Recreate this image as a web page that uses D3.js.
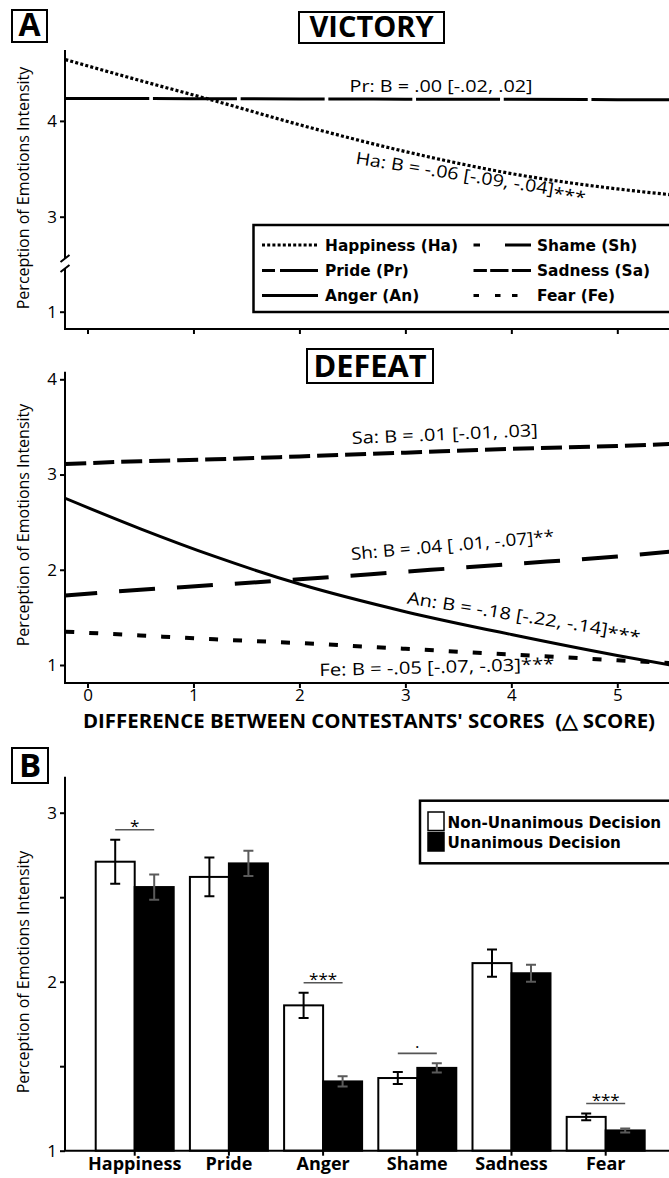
<!DOCTYPE html>
<html><head><meta charset="utf-8">
<script src="https://cdn.jsdelivr.net/npm/d3@7"></script>
<style>body{margin:0;background:#fff}svg{display:block}</style>
</head><body>
<svg id="c" width="669" height="1178"></svg>
<script>
// ---------- DATA ----------
const xGrid = [-0.21, 0.5, 1.2, 2, 3, 4, 5, 5.5];
const happiness = [4.64, 4.42, 4.21, 3.96, 3.68, 3.45, 3.29, 3.23];
const pride = [4.235, 4.233, 4.231, 4.229, 4.227, 4.225, 4.222, 4.22];
const sadness = [3.11, 3.14, 3.16, 3.19, 3.23, 3.27, 3.30, 3.32];
const shame = [1.73, 1.79, 1.84, 1.90, 1.98, 2.06, 2.14, 2.19];
const anger = [2.75, 2.43, 2.14, 1.85, 1.56, 1.32, 1.10, 1.00];
const fear = [1.35, 1.31, 1.27, 1.23, 1.17, 1.11, 1.05, 1.02];
const xTicks = [0, 1, 2, 3, 4, 5];
const victoryTicks = [1, 3, 4];
const defeatTicks = [1, 2, 3, 4];
const categories = ["Happiness", "Pride", "Anger", "Shame", "Sadness", "Fear"];
const nonUnanimous = [2.71, 2.62, 1.86, 1.43, 2.11, 1.20];
const nonUnanimousErr = [0.13, 0.115, 0.075, 0.035, 0.08, 0.02];
const unanimous = [2.56, 2.70, 1.41, 1.49, 2.05, 1.12];
const unanimousErr = [0.075, 0.075, 0.03, 0.027, 0.05, 0.012];
const sigLabels = ["*", "", "***", ".", "", "***"];
const barTicks = [1, 1.5, 2, 2.5, 3];

// ---------- SETUP ----------
const svg = d3.select("#c");
const SANS = "'Open Sans', sans-serif";
const LEG = "'DejaVu Sans', sans-serif";
const AX = 65, RIGHT = 669;

const x = d3.scaleLinear().domain([0, 5]).range([87.5, 617.3]);
const yV = d3.scaleLinear().domain([0.82, 1, 3, 4.74]).range([329, 311.7, 216.7, 50]);
const yD = d3.scaleLinear().domain([1, 4]).range([665, 379.3]);

function titleBox(cx, y0, y1, w, txt, fs, tl) {
  svg.append("rect").attr("x", cx - w / 2).attr("y", y0).attr("width", w).attr("height", y1 - y0)
    .attr("fill", "white").attr("stroke", "black").attr("stroke-width", 2);
  const t = svg.append("text").attr("x", cx).attr("y", y1 - 6).attr("text-anchor", "middle")
    .attr("font-family", SANS).attr("font-weight", 700).attr("font-size", fs).text(txt);
  if (tl) t.attr("textLength", tl).attr("lengthAdjust", "spacingAndGlyphs");
}
titleBox(29.5, 10, 42, 35, "A", 32, null);
titleBox(371.5, 12, 43, 145, "VICTORY", 28, 124);
titleBox(370, 349, 383, 126, "DEFEAT", 30, 113);
titleBox(30, 748, 783, 36, "B", 33, null);

function yTitle(cy) {
  svg.append("text").attr("transform", `translate(29,${cy}) rotate(-90)`)
    .attr("text-anchor", "middle").attr("font-family", SANS).attr("font-size", 16)
    .text("Perception of Emotions Intensity");
}
yTitle(188); yTitle(525); yTitle(972);

function clip(id, y0, y1) {
  svg.append("clipPath").attr("id", id).append("rect")
    .attr("x", AX).attr("y", y0).attr("width", RIGHT - AX).attr("height", y1 - y0);
}
clip("cv", 48, 329); clip("cd", 370, 683);

function drawLine(vals, yS, clipId, w, dash, off) {
  const line = d3.line().x(d => x(d[0])).y(d => yS(d[1])).curve(d3.curveMonotoneX);
  svg.append("path").attr("d", line(xGrid.map((g, i) => [g, vals[i]])))
    .attr("fill", "none").attr("stroke", "black").attr("stroke-width", w)
    .attr("stroke-dasharray", dash || null).attr("stroke-dashoffset", off || 0)
    .attr("clip-path", `url(#${clipId})`);
}

function label(txt, stars, starDy, cx, cy, rot, len) {
  const t = svg.append("text").attr("transform", `translate(${cx},${cy}) rotate(${rot})`)
    .attr("text-anchor", "middle").attr("font-family", SANS).attr("font-size", 17)
    .attr("textLength", len).attr("lengthAdjust", "spacingAndGlyphs");
  t.append("tspan").text(txt);
  if (stars) t.append("tspan").attr("dy", starDy).text(stars);
}

// ---------- VICTORY ----------
const gV = svg.append("g");
gV.append("path").attr("d", `M${AX},50V259M${AX},269V329H${RIGHT}`)
  .attr("fill", "none").attr("stroke", "black").attr("stroke-width", 2);
gV.append("path").attr("d", "M60.5,262L69.5,255M60.5,272L69.5,265")
  .attr("stroke", "black").attr("stroke-width", 2);
const axV = gV.append("g").attr("transform", `translate(${AX},0)`)
  .call(d3.axisLeft(yV).tickValues(victoryTicks).tickSize(5).tickFormat(d3.format("d")));
const axVx = gV.append("g").attr("transform", "translate(0,329)")
  .call(d3.axisBottom(x).tickValues(xTicks).tickSize(5).tickFormat(""));
[axV, axVx].forEach(a => {
  a.select(".domain").remove();
  a.selectAll("line").attr("stroke-width", 2);
  a.selectAll("text").attr("font-family", SANS).attr("font-size", 17).attr("fill", "black");
});

drawLine(happiness, yV, "cv", 3.2, "3,2.2");
drawLine(pride, yV, "cv", 3, "84,3.7");
label("Pr: B = .00 [-.02, .02]", "", 0, 441, 92, 0, 183);
label("Ha: B = -.06 [-.09, -.04]", "***", 4, 470, 182, 9, 233);

// legend
const lg = svg.append("g");
lg.append("rect").attr("x", 253.5).attr("y", 225).attr("width", 440).attr("height", 87)
  .attr("fill", "white").attr("stroke", "black").attr("stroke-width", 2.5);
const legItems = [
  {t: "Happiness (Ha)", col: 0, row: 0, dash: "3,2.2"},
  {t: "Pride (Pr)", col: 0, row: 1, dash: "13,5,80"},
  {t: "Anger (An)", col: 0, row: 2, dash: null},
  {t: "Shame (Sh)", col: 1, row: 0, dash: "6.5,25,40"},
  {t: "Sadness (Sa)", col: 1, row: 1, dash: "13.4,3.3,18.3,3.4,40"},
  {t: "Fear (Fe)", col: 1, row: 2, dash: "5.5,16,5.5,11.5,5.5,60"}
];
const rowsY = [245, 270.5, 295.5];
const colX = [[262, 318, 325], [473.5, 531, 537]];
legItems.forEach(it => {
  const c = colX[it.col], yy = rowsY[it.row];
  lg.append("line").attr("x1", c[0]).attr("x2", c[1]).attr("y1", yy).attr("y2", yy)
    .attr("stroke", "black").attr("stroke-width", 3.2).attr("stroke-dasharray", it.dash);
  lg.append("text").attr("x", c[2]).attr("y", yy + 5.5).attr("font-family", LEG)
    .attr("font-weight", 700).attr("font-size", 15.4).text(it.t);
});

// ---------- DEFEAT ----------
const gD = svg.append("g");
gD.append("path").attr("d", `M${AX},371.7V683H${RIGHT}`)
  .attr("fill", "none").attr("stroke", "black").attr("stroke-width", 2);
const axD = gD.append("g").attr("transform", `translate(${AX},0)`)
  .call(d3.axisLeft(yD).tickValues(defeatTicks).tickSize(5).tickFormat(d3.format("d")));
const axDx = gD.append("g").attr("transform", "translate(0,683)")
  .call(d3.axisBottom(x).tickValues(xTicks).tickSize(5).tickPadding(1).tickFormat(d3.format("d")));
[axD, axDx].forEach(a => {
  a.select(".domain").remove();
  a.selectAll("line").attr("stroke-width", 2);
  a.selectAll("text").attr("font-family", SANS).attr("font-size", 17).attr("fill", "black");
});

drawLine(sadness, yD, "cd", 4, "21,7");
drawLine(shame, yD, "cd", 4, "36,22", 4);
drawLine(anger, yD, "cd", 3);
drawLine(fear, yD, "cd", 4, "9,15");
label("Sa: B = .01 [-.01, .03]", "", 0, 445, 440, -2.5, 186);
label("Sh: B = .04 [ .01, -.07]", "**", 0, 453, 551, -5, 204);
label("An: B = -.18 [-.22, -.14]", "***", 3, 523, 622, 9, 236);
label("Fe: B = -.05 [-.07, -.03]", "***", 0, 437, 673, -1.5, 235);

svg.append("text").attr("x", 369).attr("y", 728).attr("text-anchor", "middle")
  .attr("font-family", SANS).attr("font-weight", 700).attr("font-size", 20)
  .attr("textLength", 572).attr("lengthAdjust", "spacingAndGlyphs")
  .text("DIFFERENCE BETWEEN CONTESTANTS' SCORES\u00A0\u00A0(\u25B3 SCORE)");

// ---------- PANEL B ----------
const xB = d3.scaleBand().domain(categories).range([65, 675.4]).paddingInner(0.172).paddingOuter(0.326);
const yB = d3.scaleLinear().domain([1, 3]).range([1150.7, 812.7]);
const bw = xB.bandwidth() / 2;
const gB = svg.append("g");

categories.forEach((c, i) => {
  const x0 = xB(c);
  gB.append("rect").attr("x", x0).attr("y", yB(nonUnanimous[i])).attr("width", bw)
    .attr("height", yB(1) - yB(nonUnanimous[i])).attr("fill", "white").attr("stroke", "black").attr("stroke-width", 2);
  gB.append("rect").attr("x", x0 + bw).attr("y", yB(unanimous[i])).attr("width", bw)
    .attr("height", yB(1) - yB(unanimous[i])).attr("fill", "black").attr("stroke", "black").attr("stroke-width", 2);
  const eb = (cx, v, e, col) => {
    const y0 = yB(v - e), y1 = yB(v + e);
    gB.append("path").attr("d", `M${cx - 5},${y1}H${cx + 5}M${cx},${y1}V${y0}M${cx - 5},${y0}H${cx + 5}`)
      .attr("fill", "none").attr("stroke", col).attr("stroke-width", 2);
  };
  eb(x0 + bw / 2, nonUnanimous[i], nonUnanimousErr[i], "black");
  eb(x0 + bw * 1.5, unanimous[i], unanimousErr[i], "#5a5a5a");
  if (sigLabels[i]) {
    const top = Math.min(yB(nonUnanimous[i] + nonUnanimousErr[i]), yB(unanimous[i] + unanimousErr[i]));
    const ly = top - 10;
    gB.append("line").attr("x1", x0 + bw / 2).attr("x2", x0 + bw * 1.5).attr("y1", ly).attr("y2", ly)
      .attr("stroke", "#555").attr("stroke-width", 1.6);
    gB.append("text").attr("x", x0 + bw).attr("y", sigLabels[i] === "." ? ly - 5 : ly + 2)
      .attr("text-anchor", "middle").attr("font-family", SANS).attr("font-size", 17).text(sigLabels[i]);
  }
});

gB.append("path").attr("d", `M${AX},776.7V1150.7H${RIGHT}`)
  .attr("fill", "none").attr("stroke", "black").attr("stroke-width", 2);
const axB = gB.append("g").attr("transform", `translate(${AX},0)`)
  .call(d3.axisLeft(yB).tickValues(barTicks).tickSize(5).tickFormat(d => Number.isInteger(d) ? d : ""));
const axBx = gB.append("g").attr("transform", "translate(0,1150.7)")
  .call(d3.axisBottom(xB).tickSize(5).tickPadding(2));
[axB, axBx].forEach(a => {
  a.select(".domain").remove();
  a.selectAll("line").attr("stroke-width", 2);
  a.selectAll("text").attr("font-family", SANS).attr("font-size", 17).attr("fill", "black");
});
axBx.selectAll("text").attr("font-weight", 700).attr("font-size", 18);

// bar legend
const bl = svg.append("g");
bl.append("rect").attr("x", 420).attr("y", 800.7).attr("width", 260).attr("height", 62.6)
  .attr("fill", "white").attr("stroke", "black").attr("stroke-width", 2.5);
[["Non-Unanimous Decision", "white", 812, 828.3], ["Unanimous Decision", "black", 832.5, 848.3]].forEach(r => {
  bl.append("rect").attr("x", 428).attr("y", r[2]).attr("width", 16).attr("height", 18.5)
    .attr("fill", r[1]).attr("stroke", "black").attr("stroke-width", 1.5);
  bl.append("text").attr("x", 447.5).attr("y", r[3]).attr("font-family", LEG).attr("font-weight", 700)
    .attr("font-size", 15.2).text(r[0]);
});
</script>
</body></html>
